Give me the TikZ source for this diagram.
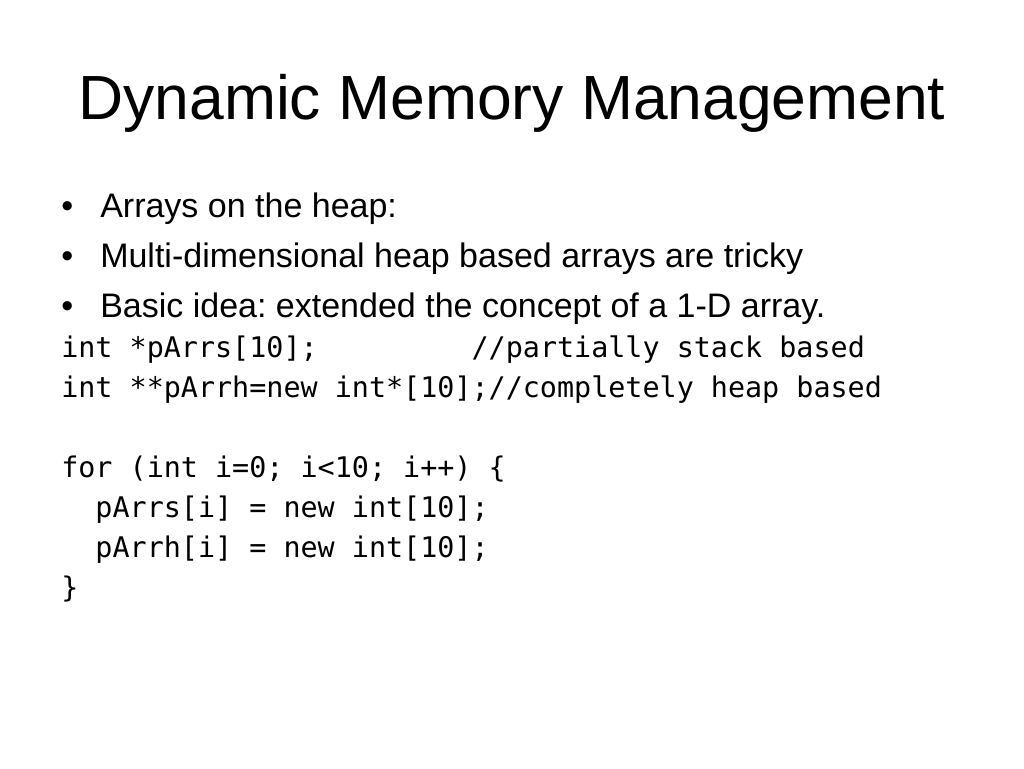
\documentclass[tikz,border=0pt]{standalone}
\usepackage{fontspec}
\setmainfont{Liberation Sans}
\setmonofont{DejaVu Sans Mono}
\frenchspacing
\begin{document}
\begin{tikzpicture}[x=0.75pt,y=-0.75pt,
  every node/.style={inner sep=0pt,anchor=base west},
  slidetitle/.style={anchor=base,font=\fontsize{46.8}{56}\selectfont},
  bulletdot/.style={font=\fontsize{25.5}{30}\selectfont},
  bullettext/.style={font=\fontsize{25.5}{30}\selectfont},
  codeline/.style={font=\ttfamily\fontsize{21.3}{26}\selectfont}]
\useasboundingbox [fill=white] (0,0) rectangle (1024,768);
% title
\node [slidetitle] (title) at (512,119) {Dynamic Memory Management};
% bullets
\node [bulletdot] (d1) at (61,217) {•};
\node [bullettext] (b1) at (100,217) {Arrays on the heap:};
\node [bulletdot] (d2) at (61,267) {•};
\node [bullettext] (b2) at (100,267) {Multi-dimensional heap based arrays are tricky};
\node [bulletdot] (d3) at (61,317) {•};
\node [bullettext] (b3) at (100,317) {Basic idea: extended the concept of a 1-D array.};
% code
\node [codeline] (c1) at (61,357) {int *pArrs[10];\ \ \ \ \ \ \ \ \ //partially stack based};
\node [codeline] (c2) at (61,397) {int **pArrh=new int*[10];//completely heap based};
\node [codeline] (c3) at (61,477) {for (int i=0; i<10; i++) \{};
\node [codeline] (c4) at (61,517) {\ \ pArrs[i] = new int[10];};
\node [codeline] (c5) at (61,557) {\ \ pArrh[i] = new int[10];};
\node [codeline] (c6) at (61,597) {\}};
\end{tikzpicture}
\end{document}
